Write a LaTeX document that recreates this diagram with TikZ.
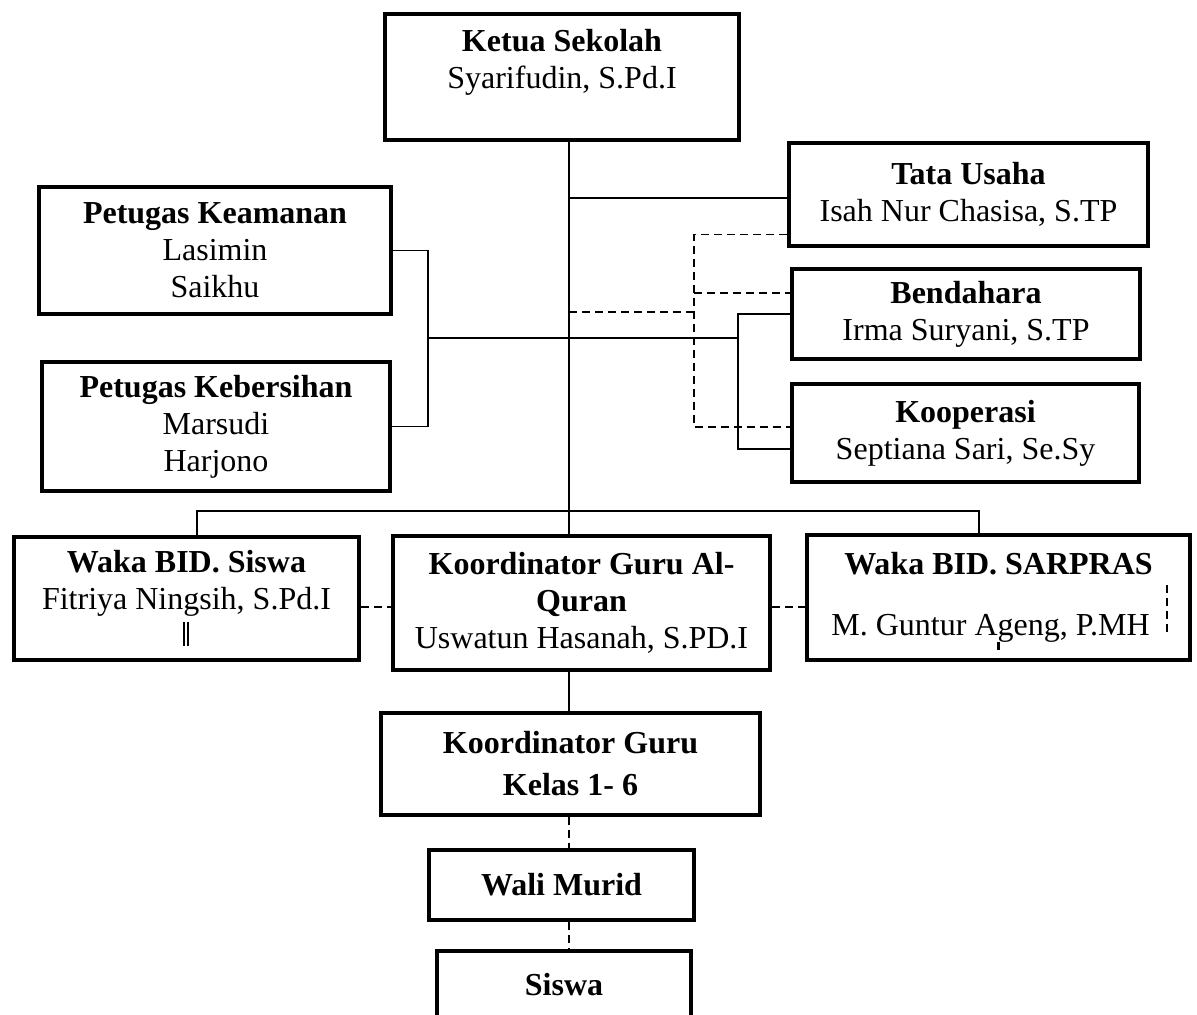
\documentclass[tikz,border=0pt]{standalone}
\usepackage{fontspec}
\setmainfont{Liberation Serif}

\begin{document}
\begin{tikzpicture}[x=0.5pt, y=-0.5pt,
	kotak/.style={draw, line width=2.2pt, align=center, inner sep=0pt, font=\fontsize{16}{18.5}\selectfont},
	garis/.style={line width=0.8pt},
	putus/.style={line width=0.95pt, dash pattern=on 4pt off 2.5pt}]
\useasboundingbox (0, 0) rectangle (1197, 1014);

\node[kotak, minimum width=176.8pt, minimum height=62.8pt] (ketua) at (562, 77) {\textbf{Ketua Sekolah}\\Syarifudin, S.Pd.I\\~};

\node[kotak, minimum width=179.3pt, minimum height=51.3pt] (tata) at (968.5, 194.5) {\textbf{Tata Usaha}\\Isah Nur Chasisa, S.TP};
\node[kotak, minimum width=173.8pt, minimum height=44.8pt] (bend) at (966, 314) {\textbf{Bendahara}\\Irma Suryani, S.TP};
\node[kotak, minimum width=173.3pt, minimum height=48.8pt] (koop) at (965.5, 433) {\textbf{Kooperasi}\\Septiana Sari, Se.Sy};

\node[kotak, minimum width=175.8pt, minimum height=63.3pt] (keam) at (215, 250.5) {\textbf{Petugas Keamanan}\\Lasimin\\Saikhu};
\node[kotak, minimum width=173.8pt, minimum height=64.3pt] (kebr) at (216, 426.5) {\textbf{Petugas Kebersihan}\\Marsudi\\Harjono};

\node[kotak, minimum width=172.3pt, minimum height=61.3pt] (wsiswa) at (186.5, 598.5) {\textbf{Waka BID. Siswa}\\Fitriya Ningsih, S.Pd.I\\~};
\node[kotak, minimum width=188.3pt, minimum height=66.8pt] (kquran) at (581.5, 603) {\textbf{Koordinator Guru Al-}\\\textbf{Quran}\\Uswatun Hasanah, S.PD.I};
\node[kotak, minimum width=191.3pt, minimum height=62.3pt] (sarpras) at (998.5, 597.5) {\textbf{Waka BID. SARPRAS}\\[12pt]M. Guntur Ageng, P.MH\hspace*{8pt}};

\node[kotak, minimum width=189.3pt, minimum height=50.8pt] (kelas) at (570.5, 764) {\textbf{Koordinator Guru}\\[2.5pt]\textbf{Kelas 1- 6}};
\node[kotak, minimum width=132.3pt, minimum height=34.8pt] (wali) at (561.5, 885) {\textbf{Wali Murid}};
\node[kotak, minimum width=126.8pt, minimum height=33.3pt] (siswa) at (564, 984.5) {\textbf{Siswa}};

\coordinate (poros) at (569, 511);
\coordinate (brk) at (428, 338);
\coordinate (cabang) at (738, 338);
\coordinate (garis) at (694, 312);

% garis komando
\draw[garis] (ketua.south -| poros) -- (kquran.north -| poros);
\coordinate (tu) at ([yshift=-1.75pt]tata.west);
\draw[garis] (poros |- tu) -- (tu);
\draw[garis] (keam.east) -| (brk) |- (kebr.east);
\draw[garis] (brk) -- (cabang);
\draw[garis] (bend.west) -| (cabang) |- ([yshift=-8pt]koop.west);
\draw[garis] ([xshift=5.25pt]wsiswa.north) |- (poros) -| ([xshift=-9.75pt]sarpras.north);
\draw[garis] (kquran.south -| poros) -- (kelas.north -| poros);

% garis koordinasi
\draw[putus] (poros |- garis) -- (garis);
\draw[putus] ([yshift=-20pt]tata.west) -| (garis) |- ([yshift=3pt]koop.west);
\coordinate (bd) at ([yshift=10.5pt]bend.west);
\draw[putus] (garis |- bd) -- (bd);
\coordinate (dq) at ([yshift=-2pt]kquran.west);
\draw[putus] (dq -| wsiswa.east) -- (dq);
\coordinate (dr) at ([yshift=-2pt]kquran.east);
\draw[putus] (dr) -- (dr -| sarpras.west);
\draw[putus] (kelas.south -| poros) -- (wali.north -| poros);
\draw[putus] (wali.south -| poros) -- (siswa.north -| poros);

\draw[line width=1pt] ([xshift=-1.25pt, yshift=-11.75pt]wsiswa.center) -- ++(0, 24);
\draw[line width=1pt] ([xshift=0.75pt, yshift=-11.75pt]wsiswa.center) -- ++(0, 24);
\draw[putus, line width=1.3pt] ([xshift=84.25pt, yshift=6.25pt]sarpras.center) -- ++(0, 50);
\draw[line width=1.1pt] ([yshift=-22pt]sarpras.center) -- ++(0, 8);
\end{tikzpicture}
\end{document}
